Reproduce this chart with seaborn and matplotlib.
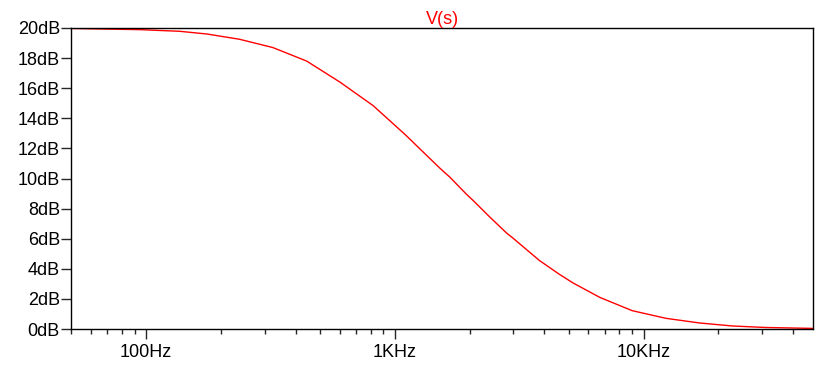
import matplotlib
matplotlib.use("Agg")
import matplotlib.pyplot as plt
import matplotlib.ticker as mticker
import seaborn as sns

# readings taken off the plotted curve
freq_hz = [50, 95, 137, 176, 238, 324, 443, 603, 818, 1113, 1257, 1516, 1663,
           1944, 2063, 2397, 2806, 2982, 3818, 4576, 5195, 6675, 9000, 12300,
           16800, 22800, 31000, 48000]
gain_db = [19.97, 19.89, 19.78, 19.6, 19.25, 18.7, 17.8, 16.4, 14.85, 12.85, 12.0, 10.7, 10.1,
           8.95, 8.55, 7.48, 6.4, 6.05, 4.55, 3.65, 3.07, 2.1, 1.22, 0.71,
           0.4, 0.2, 0.1, 0.04]

x_ticks = [100, 1000, 10000]
x_labels = ["100Hz", "1KHz", "10KHz"]
y_ticks = list(range(0, 21, 2))
y_labels = [f"{v}dB" for v in y_ticks]

sns.set_style("white")
plt.rcParams['font.family'] = ['Liberation Sans', 'DejaVu Sans']

fig = plt.figure(figsize=(8.18, 3.68), dpi=100)
ax = fig.add_axes([71 / 818, 1 - 329 / 368, (813 - 71) / 818, (329 - 28) / 368])

sns.lineplot(x=freq_hz, y=gain_db, color="#ff0000", linewidth=1.0, ax=ax)

ax.set_xscale("log")
ax.set_xlim(50, 48000)
ax.set_ylim(0, 20)

ax.xaxis.set_major_locator(mticker.FixedLocator(x_ticks))
ax.xaxis.set_major_formatter(mticker.FixedFormatter(x_labels))
ax.xaxis.set_minor_locator(mticker.LogLocator(base=10, subs=range(2, 10), numticks=20))
ax.xaxis.set_minor_formatter(mticker.NullFormatter())
ax.set_yticks(y_ticks)
ax.set_yticklabels(y_labels)

ax.tick_params(axis="x", which="major", direction="out", length=7, width=1,
               labelsize=13, labelcolor="black", pad=4, bottom=True, top=False)
ax.tick_params(axis="x", which="minor", direction="out", length=3.6, width=1,
               bottom=True, top=False)
ax.tick_params(axis="y", which="major", direction="out", length=7, width=1,
               labelsize=13, labelcolor="black", pad=1, left=True, right=False)

for s in ax.spines.values():
    s.set_visible(True)
    s.set_color("black")
    s.set_linewidth(1.0)

ax.set_title("V(s)", color="#ff0000", fontsize=13, pad=3)
ax.set_xlabel("")
ax.set_ylabel("")

fig.savefig("out.png", dpi=100)
